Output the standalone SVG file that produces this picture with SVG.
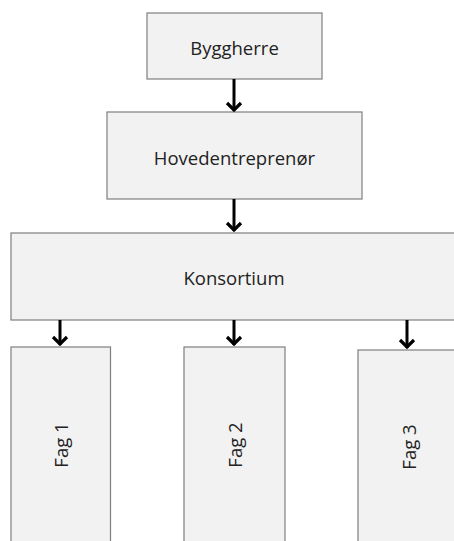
<svg xmlns="http://www.w3.org/2000/svg" width="454" height="541" viewBox="0 0 454 541">
<defs>
<style>
.box{fill:#f2f2f2;stroke:#7f7f7f;stroke-width:1.2}
.lbl{font-family:"Open Sans","Liberation Sans",sans-serif;font-size:18.5px;fill:#222;text-anchor:middle;dominant-baseline:central}
.arr{stroke:#000;stroke-width:3;fill:none}
.head{stroke:#000;stroke-width:3.2;fill:none;stroke-linejoin:miter}
</style>
</defs>
<rect width="454" height="541" fill="#fff"/>
<g id="byggherre"><rect class="box" x="147" y="13" width="175" height="66"/><text class="lbl" x="234.5" y="47">Byggherre</text></g>
<g id="hovedentreprenor"><rect class="box" x="107" y="112" width="255" height="87"/><text class="lbl" x="234.5" y="157">Hovedentreprenør</text></g>
<g id="konsortium"><rect class="box" x="11" y="233" width="450" height="87"/><text class="lbl" x="234" y="277">Konsortium</text></g>
<g id="fag1"><rect class="box" x="11" y="347" width="99.5" height="200"/><text class="lbl" transform="translate(60,445) rotate(-90)">Fag 1</text></g>
<g id="fag2"><rect class="box" x="184" y="347" width="101" height="200"/><text class="lbl" transform="translate(234.5,445) rotate(-90)">Fag 2</text></g>
<g id="fag3"><rect class="box" x="358" y="350" width="110" height="200"/><text class="lbl" transform="translate(408,447) rotate(-90)">Fag 3</text></g>
<g id="connectors">
<path class="arr" d="M234 79V111"/><path class="head" d="M227 103L234 110L241 103"/>
<path class="arr" d="M234 199V231"/><path class="head" d="M227 223L234 230L241 223"/>
<path class="arr" d="M60 320V345"/><path class="head" d="M53 337L60 344L67 337"/>
<path class="arr" d="M234 320V345"/><path class="head" d="M227 337L234 344L241 337"/>
<path class="arr" d="M407 320V348"/><path class="head" d="M400 340L407 347L414 340"/>
</g>
</svg>
